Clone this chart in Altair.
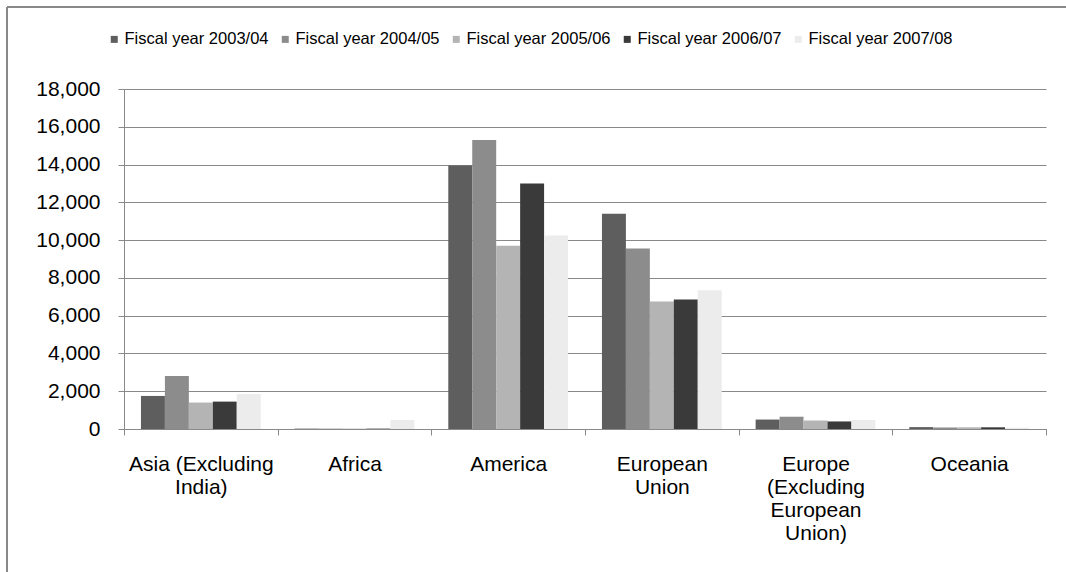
import altair as alt
import pandas as pd

regions = ["Asia (Excluding India)", "Africa", "America", "European Union",
           "Europe (Excluding European Union)", "Oceania"]
region_labels = ["Asia (Excluding\nIndia)", "Africa", "America", "European\nUnion",
                 "Europe\n(Excluding\nEuropean\nUnion)", "Oceania"]
years = ["Fiscal year 2003/04", "Fiscal year 2004/05", "Fiscal year 2005/06",
         "Fiscal year 2006/07", "Fiscal year 2007/08"]
v_2003_04 = [1750, 20, 13950, 11400, 500, 100]
v_2004_05 = [2800, 20, 15300, 9550, 650, 80]
v_2005_06 = [1400, 20, 9700, 6750, 450, 90]
v_2006_07 = [1450, 20, 13000, 6850, 400, 90]
v_2007_08 = [1850, 480, 10250, 7350, 480, 70]
fills = ["#5e5e5e", "#8c8c8c", "#b4b4b4", "#3a3a3a", "#ececec"]

series = [v_2003_04, v_2004_05, v_2005_06, v_2006_07, v_2007_08]
rows = []
for yr, vals in zip(years, series):
    for reg, lab, v in zip(regions, region_labels, vals):
        rows.append({"region": lab, "year": yr, "value": v})
df = pd.DataFrame(rows)

FONT = "Liberation Sans"
GRAY = "#898989"
W, H = 922, 340
PL, PT = 124, 89

bars = alt.Chart(df).mark_bar().encode(
    x=alt.X("region:N", sort=region_labels,
            scale=alt.Scale(paddingInner=0, paddingOuter=0),
            axis=alt.Axis(title=None, labelAngle=0, tickBand="extent", tickSize=6,
                          tickColor=GRAY, domainColor=GRAY, labelFont=FONT,
                          labelFontSize=21, labelColor="black", labelPadding=18,
                          labelLineHeight=23, labelBaseline="top",
                          labelExpr="split(datum.label, '\\n')")),
    xOffset=alt.XOffset("year:N", sort=years,
                        scale=alt.Scale(paddingInner=0, paddingOuter=0.708)),
    y=alt.Y("value:Q", scale=alt.Scale(domain=[0, 18000], nice=False),
            axis=alt.Axis(title=None, values=list(range(0, 18001, 2000)), format=",.0f",
                          tickSize=6, tickColor=GRAY, domainColor=GRAY,
                          gridColor=GRAY, gridWidth=1, labelFont=FONT,
                          labelFontSize=21, labelColor="black", labelPadding=18)),
    color=alt.Color("year:N", sort=years,
                    scale=alt.Scale(domain=years, range=fills),
                    legend=alt.Legend(title=None, orient="none", direction="horizontal",
                                      columns=5, legendX=-18, legendY=-58,
                                      symbolType="square", symbolSize=49,
                                      symbolStrokeWidth=0, labelFont=FONT,
                                      labelFontSize=16.5, labelColor="black",
                                      labelOffset=2, columnPadding=8)),
)

frame_src = alt.Chart(pd.DataFrame({"k": [0]}))
top_rule = frame_src.mark_rule(color=GRAY, strokeWidth=2).encode(
    x=alt.value(7 - PL), x2=alt.value(1066 - PL), y=alt.value(7 - PT))
left_rule = frame_src.mark_rule(color=GRAY, strokeWidth=2).encode(
    x=alt.value(7 - PL), y=alt.value(7 - PT), y2=alt.value(572 - PT))

chart = alt.layer(bars, top_rule, left_rule).properties(
    width=W, height=H,
    autosize=alt.AutoSizeParams(type="none"),
    padding={"left": PL, "top": PT, "right": 1066 - PL - W, "bottom": 572 - PT - H},
    background="white",
).configure_view(strokeWidth=0)

chart.save("out.html", embed_options={"renderer": "svg", "actions": False})
